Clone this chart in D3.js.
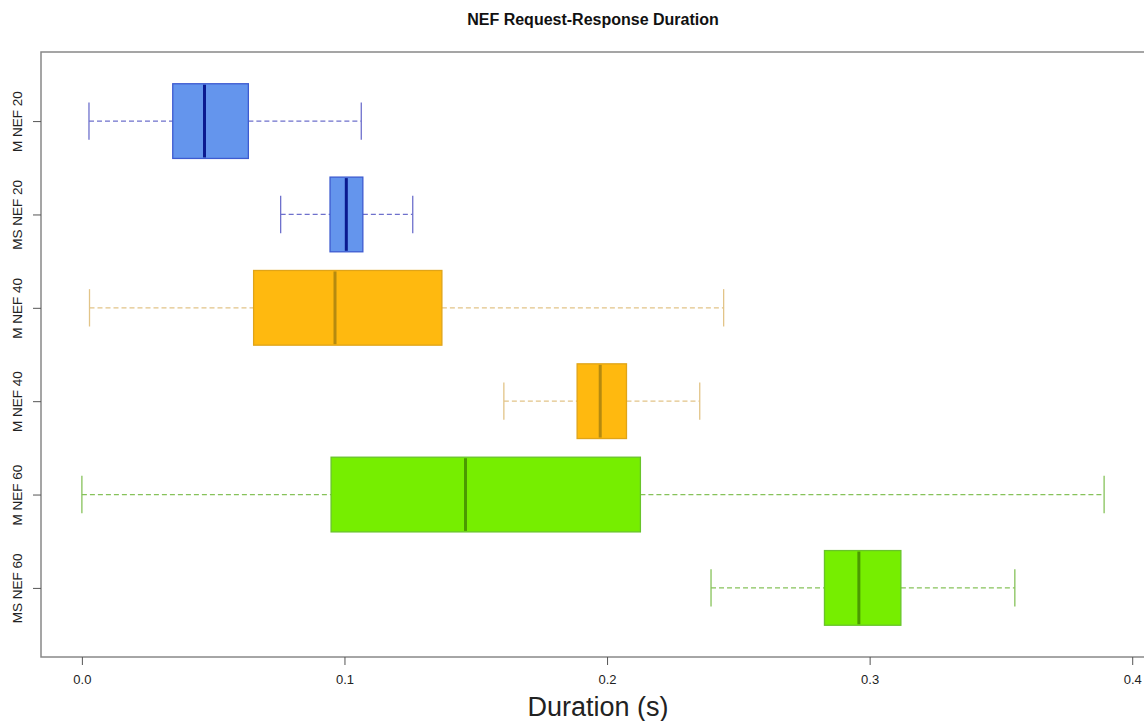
<!DOCTYPE html>
<html>
<head>
<meta charset="utf-8">
<script src="https://cdn.jsdelivr.net/npm/d3@7"></script>
<style>
  body { margin: 0; background: #fff; }
  svg { display: block; font-family: "Liberation Sans", Arial, sans-serif; }
</style>
</head>
<body>
<svg id="chart" width="1144" height="721"></svg>
<script>
// groups from top to bottom
const labels = ["M NEF 20", "MS NEF 20", "M NEF 40", "M NEF 40", "M NEF 60", "MS NEF 60"]
const whiskerLow  = [0.0027, 0.0757, 0.0029, 0.1607, 0.0000, 0.2396]
const q1          = [0.0346, 0.0945, 0.0654, 0.1886, 0.0949, 0.2828]
const median      = [0.0467, 0.1007, 0.0964, 0.1974, 0.1461, 0.2959]
const q3          = [0.0634, 0.1070, 0.1371, 0.2074, 0.2127, 0.3119]
const whiskerHigh = [0.1064, 0.1260, 0.2444, 0.2353, 0.3893, 0.3553]
const xTicks = [0.0, 0.1, 0.2, 0.3, 0.4]

// colour per group: fill, border, median, whisker
const fills    = ["#6495ed", "#6495ed", "#ffb90f", "#ffb90f", "#76ee00", "#76ee00"]
const borders  = ["#3d5bd0", "#3d5bd0", "#e0a418", "#e0a418", "#68c42a", "#68c42a"]
const medians  = ["#0a1a90", "#0a1a90", "#b58a10", "#b58a10", "#4a9a00", "#4a9a00"]
const whiskers = ["#6e70cc", "#6e70cc", "#e2c488", "#e2c488", "#86c25a", "#86c25a"]

const rows = labels.map((l, i) => ({
    label: l, lo: whiskerLow[i], q1: q1[i], med: median[i], q3: q3[i], hi: whiskerHigh[i],
    fill: fills[i], border: borders[i], medCol: medians[i], wCol: whiskers[i], pos: i + 1
}))

const svg = d3.select("#chart")
const plotL = 41, plotR = 1145, plotT = 52, plotB = 657

// R style 4% padding on both axes
const xMin = d3.min(whiskerLow), xMax = d3.max(whiskerHigh)
const xPad = (xMax - xMin) * 0.04
const x = d3.scaleLinear().domain([xMin - xPad, xMax + xPad]).range([plotL, plotR])
const y = d3.scaleLinear().domain([0.5 - 0.24, labels.length + 0.5 + 0.24]).range([plotT, plotB])

const step = y(2) - y(1)
const boxH = step * 0.8
const capH = boxH * 0.5

// frame
svg.append("rect")
    .attr("x", plotL).attr("y", plotT)
    .attr("width", plotR - plotL).attr("height", plotB - plotT)
    .attr("fill", "none").attr("stroke", "#888").attr("stroke-width", 1.5)

const g = svg.append("g")
const box = g.selectAll("g.box").data(rows).join("g").attr("class", "box")

// whiskers
box.append("line")
    .attr("x1", d => x(d.lo)).attr("x2", d => x(d.q1))
    .attr("y1", d => y(d.pos)).attr("y2", d => y(d.pos))
    .attr("stroke", d => d.wCol).attr("stroke-width", 1.3).attr("stroke-dasharray", "5,3")
box.append("line")
    .attr("x1", d => x(d.q3)).attr("x2", d => x(d.hi))
    .attr("y1", d => y(d.pos)).attr("y2", d => y(d.pos))
    .attr("stroke", d => d.wCol).attr("stroke-width", 1.3).attr("stroke-dasharray", "5,3")

// staples
box.selectAll("line.cap")
    .data(d => [d.lo, d.hi].map(v => ({ v, d })))
    .join("line").attr("class", "cap")
    .attr("x1", c => x(c.v)).attr("x2", c => x(c.v))
    .attr("y1", c => y(c.d.pos) - capH / 2).attr("y2", c => y(c.d.pos) + capH / 2)
    .attr("stroke", c => c.d.wCol).attr("stroke-width", 1.3)

// boxes
box.append("rect")
    .attr("x", d => x(d.q1)).attr("width", d => x(d.q3) - x(d.q1))
    .attr("y", d => y(d.pos) - boxH / 2).attr("height", boxH)
    .attr("fill", d => d.fill).attr("stroke", d => d.border).attr("stroke-width", 1.3)

// medians
box.append("line")
    .attr("x1", d => x(d.med)).attr("x2", d => x(d.med))
    .attr("y1", d => y(d.pos) - boxH / 2 + 1).attr("y2", d => y(d.pos) + boxH / 2 - 1)
    .attr("stroke", d => d.medCol).attr("stroke-width", 3)

// x axis
const xAxis = svg.append("g")
    .attr("transform", `translate(0,${plotB})`)
    .call(d3.axisBottom(x).tickValues(xTicks).tickFormat(d3.format(".1f")).tickSize(8).tickPadding(10))
xAxis.select(".domain").remove()
xAxis.selectAll(".tick line").attr("stroke", "#555")
xAxis.selectAll(".tick text").attr("fill", "#222").style("font-size", "13px")
    .style("font-family", "Liberation Sans, Arial, sans-serif")

// y axis
const yAxis = svg.append("g")
    .attr("transform", `translate(${plotL},0)`)
    .call(d3.axisLeft(y).tickValues(rows.map(d => d.pos)).tickFormat((d, i) => labels[i]).tickSize(8).tickPadding(0))
yAxis.select(".domain").remove()
yAxis.selectAll(".tick line").attr("stroke", "#555")
yAxis.selectAll(".tick text")
    .attr("fill", "#222").style("font-size", "13.5px")
    .style("font-family", "Liberation Sans, Arial, sans-serif")
    .attr("text-anchor", "middle")
    .attr("x", null).attr("dy", null)
    .attr("transform", "translate(-23.5,0) rotate(-90)")
    .attr("y", 0)
    .attr("dominant-baseline", "central")

// title
svg.append("text")
    .attr("x", (plotL + plotR) / 2).attr("y", 25)
    .attr("text-anchor", "middle")
    .style("font-size", "16px").style("font-weight", "bold").attr("fill", "#111")
    .text("NEF Request-Response Duration")

// x label
svg.append("text")
    .attr("x", 598).attr("y", 716)
    .attr("text-anchor", "middle")
    .style("font-size", "27px").attr("fill", "#222")
    .text("Duration (s)")
</script>
</body>
</html>
